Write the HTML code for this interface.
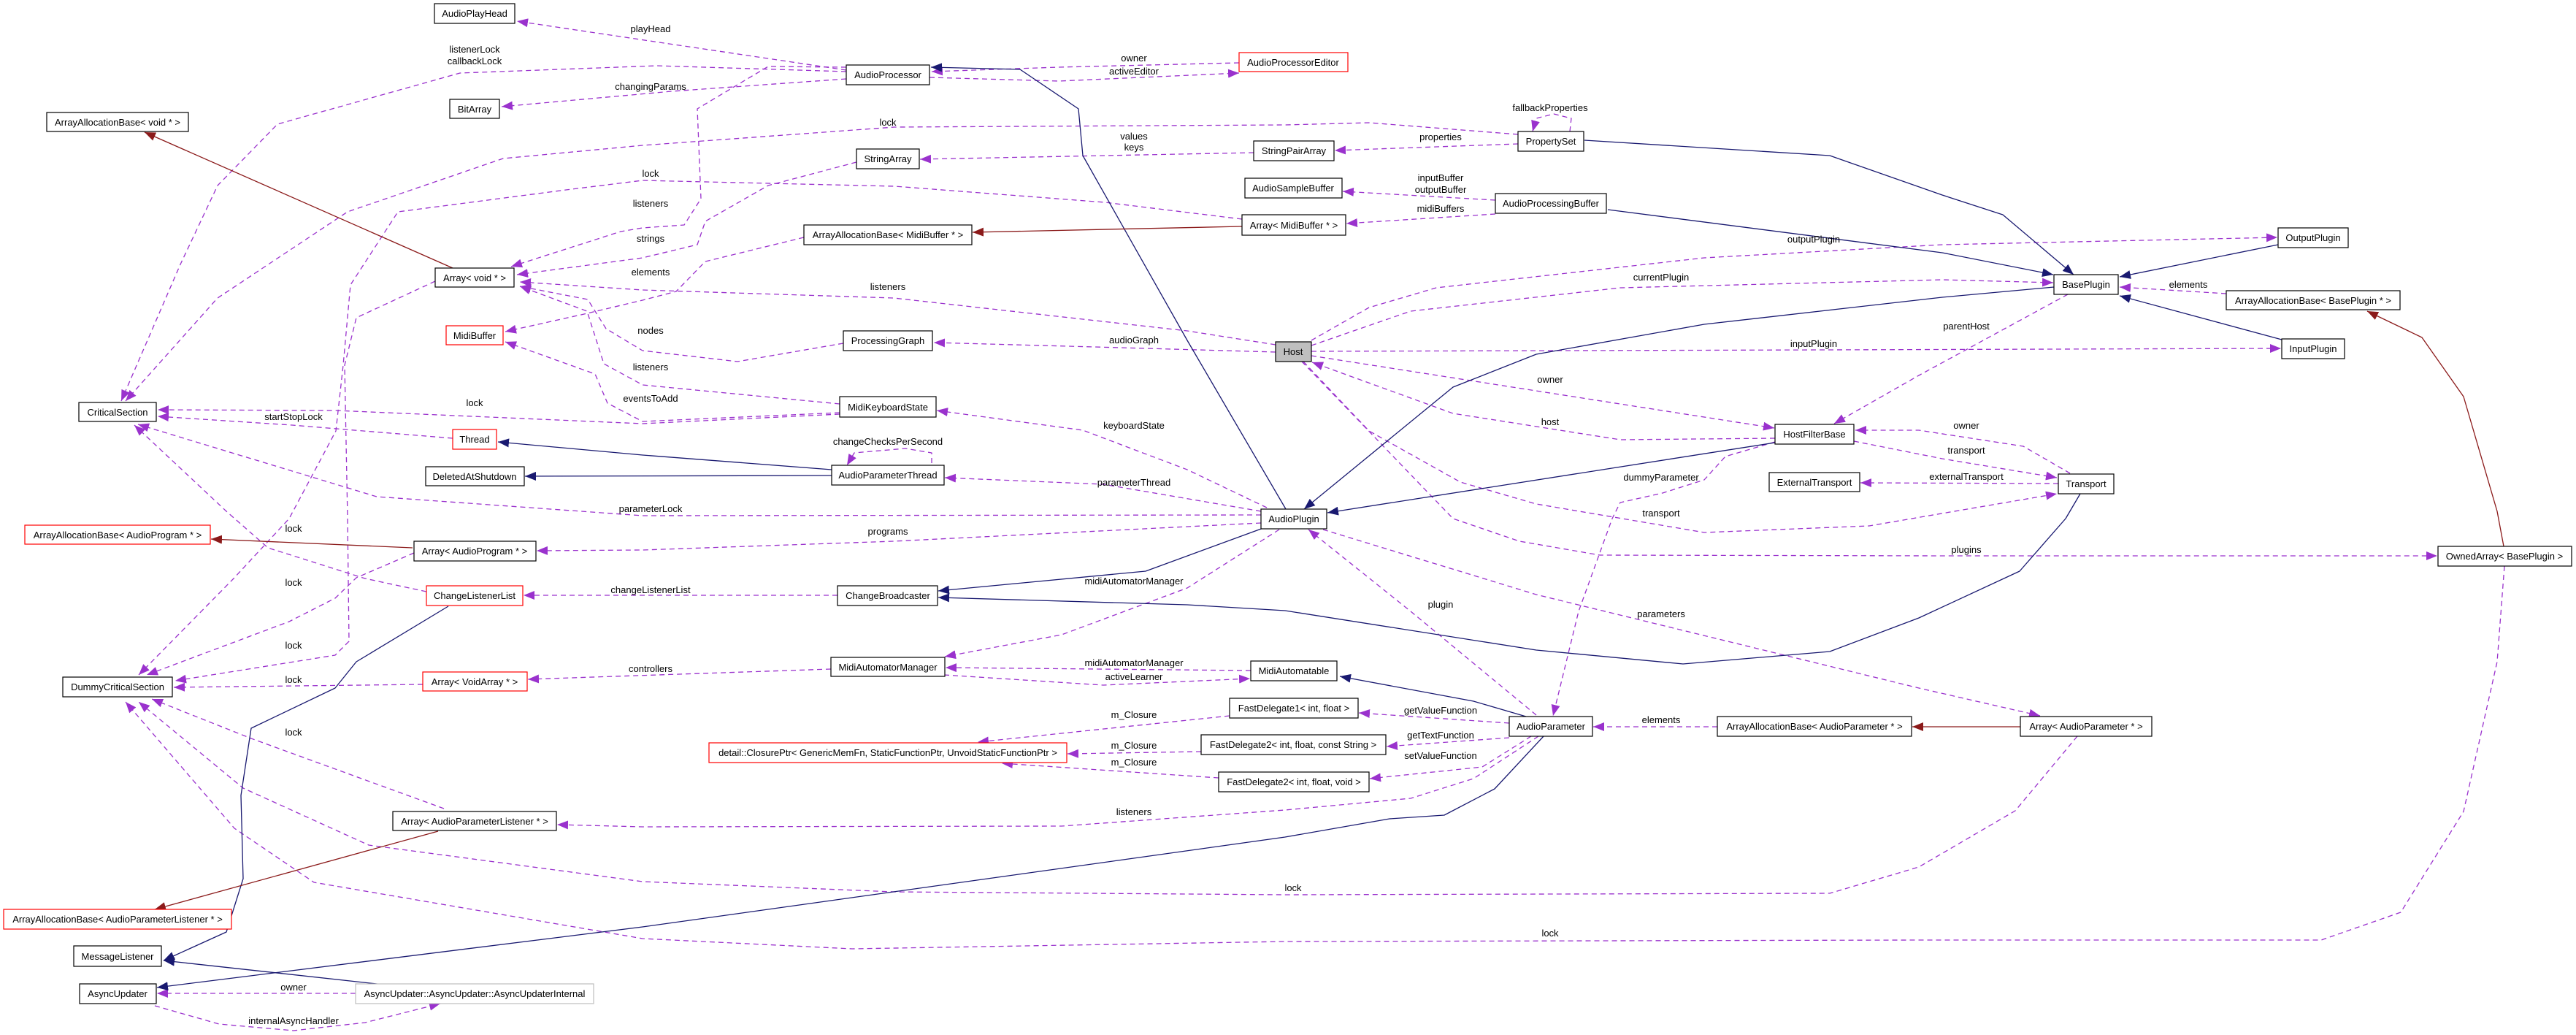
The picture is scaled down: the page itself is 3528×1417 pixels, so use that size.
<!DOCTYPE html>
<html><head><meta charset="utf-8">
<style>
html,body{margin:0;padding:0;background:#fff;}
svg{display:block;}
.n{fill:#fff;stroke:#000;stroke-width:1.2}
.r{fill:#fff;stroke:#ff0000;stroke-width:1.2}
.g{fill:#bfbfbf;stroke:#000;stroke-width:1.2}
.q{fill:#fff;stroke:#bfbfbf;stroke-width:1.2}
text{font-family:"Liberation Sans",sans-serif;font-size:13px;fill:#000}
.nt{text-anchor:middle}
.el{text-anchor:middle;font-size:13px}
.p{fill:none;stroke:#9a32cd;stroke-width:1.3;stroke-dasharray:7,5;marker-end:url(#mp);stroke-linejoin:round}
.v{fill:none;stroke:#191970;stroke-width:1.3;marker-end:url(#mv);stroke-linejoin:round}
.d{fill:none;stroke:#8b1a1a;stroke-width:1.3;marker-end:url(#md);stroke-linejoin:round}
</style></head><body>
<svg width="3528" height="1417" viewBox="0 0 3528 1417" xmlns="http://www.w3.org/2000/svg">
<defs>
<marker id="mp" markerUnits="userSpaceOnUse" markerWidth="16" markerHeight="12" refX="15" refY="6" orient="auto"><path d="M0,0 L15,6 L0,12 z" fill="#9a32cd"/></marker>
<marker id="mv" markerUnits="userSpaceOnUse" markerWidth="16" markerHeight="12" refX="15" refY="6" orient="auto"><path d="M0,0 L15,6 L0,12 z" fill="#191970"/></marker>
<marker id="md" markerUnits="userSpaceOnUse" markerWidth="16" markerHeight="12" refX="15" refY="6" orient="auto"><path d="M0,0 L15,6 L0,12 z" fill="#8b1a1a"/></marker>
</defs>

<!-- purple edges -->
<g>
<polyline class="p" points="1159,96 930,62 708,29"/>
<polyline class="p" points="1159,98 900,90 630,100 380,170 298,254 247,362 166,549"/>
<polyline class="p" points="1159,108 920,125 687,146"/>
<polyline class="p" points="1697,86 1450,92 1276,98"/>
<polyline class="p" points="1273,106 1450,111 1697,100"/>
<polyline class="p" points="1159,92 1052,91 955,149 960,272 937,308 880,312 850,317 700,365"/>
<polyline class="p" points="1173,222 1052,254 966,303 955,335 880,353 708,376"/>
<polyline class="p" points="1101,325 966,358 926,399 880,411 800,430 692,454"/>
<polyline class="p" points="1747,472 1626,453 1224,408 880,397 712,386"/>
<polyline class="p" points="1155,470 1010,495 880,480 830,450 805,410 712,392"/>
<polyline class="p" points="1150,553 880,527 827,498 804,426 712,392"/>
<polyline class="p" points="1150,565 880,577 832,552 815,512 692,468"/>
<polyline class="p" points="1150,567 880,580 460,562 216,561"/>
<polyline class="p" points="620,600 400,582 216,570"/>
<polyline class="p" points="1727,705 880,706 516,680 189,581"/>
<polyline class="p" points="596,385 488,435 472,500 476,710 478,878 459,897 240,932"/>
<polyline class="p" points="2079,184 1875,168 1760,171 1225,174 880,199 689,217 476,290 298,408 172,549"/>
<polyline class="p" points="1701,300 1513,277 1225,255 880,247 775,260 545,290 480,390 470,500 460,590 396,710 320,792 190,924"/>
<polyline class="p" points="584,810 500,792 367,750 310,700 184,582"/>
<polyline class="p" points="567,757 488,791 459,819 396,851 201,924"/>
<polyline class="p" points="579,937 238,941"/>
<polyline class="p" points="608,1107 344,1011 208,957"/>
<polyline class="p" points="2845,1008 2760,1110 2628,1187 2506,1223 1760,1225 1224,1221 880,1207 505,1157 333,1079 190,961"/>
<polyline class="p" points="3430,775 3420,906 3374,1111 3288,1249 3179,1287 2628,1287 1760,1289 1167,1299 880,1285 430,1208 321,1134 172,961"/>
<polyline class="p" points="1747,482 1500,475 1279,469"/>
<polyline class="p" points="1796,473 1932,426 2219,394 2660,383 2812,387"/>
<polyline class="p" points="1796,466 1875,421 1967,394 2334,353 2660,335 3119,325"/>
<polyline class="p" points="1796,481 2500,479 3124,477"/>
<polyline class="p" points="1796,487 2430,586"/>
<polyline class="p" points="2431,600 2219,602 1990,566 1797,496"/>
<polyline class="p" points="1785,495 1875,590 2000,660 2104,690 2334,729 2560,720 2817,676"/>
<polyline class="p" points="1783,495 1990,710 2081,741 2191,760 2660,761 3338,761"/>
<polyline class="p" points="2835,648 2771,611 2628,589 2541,589"/>
<polyline class="p" points="2539,604 2660,628 2817,654"/>
<polyline class="p" points="2819,662 2548,661"/>
<polyline class="p" points="2832,403 2628,514 2512,580"/>
<polyline class="p" points="3049,402 2903,393"/>
<polyline class="p" points="2431,605 2363,625 2334,657 2277,675 2219,688 2208,710 2162,837 2127,980"/>
<polyline class="p" points="1812,725 2104,814 2628,942 2794,980"/>
<polyline class="p" points="2104,979 1932,837 1792,725"/>
<polyline class="p" points="1727,716 1224,741 880,753 735,754"/>
<polyline class="p" points="1727,700 1511,663 1294,654"/>
<polyline class="p" points="1735,695 1626,643 1483,589 1283,562"/>
<polyline class="p" points="1147,815 717,815"/>
<polyline class="p" points="1752,725 1626,805 1454,869 1294,899"/>
<polyline class="p" points="1138,916 723,930"/>
<polyline class="p" points="1713,918 1295,914"/>
<polyline class="p" points="1293,924 1511,938 1712,929"/>
<polyline class="p" points="1684,980 1339,1016"/>
<polyline class="p" points="1645,1029 1462,1032"/>
<polyline class="p" points="1669,1065 1372,1045"/>
<polyline class="p" points="2067,990 1861,976"/>
<polyline class="p" points="2067,1010 1899,1022"/>
<polyline class="p" points="2097,1008 2030,1050 1876,1066"/>
<polyline class="p" points="2107,1008 2018,1066 1932,1093 1760,1109 1454,1131 880,1132 763,1129"/>
<polyline class="p" points="2352,995 2182,995"/>
<polyline class="p" points="1717,209 1260,218"/>
<polyline class="p" points="2079,197 1828,206"/>
<polyline class="p" points="2150,180 2152,162 2128,156 2104,162 2099,180"/>
<polyline class="p" points="1276,634 1276,620 1240,614 1170,620 1160,637"/>
<polyline class="p" points="2048,274 1839,262"/>
<polyline class="p" points="2048,293 1844,306"/>
<polyline class="p" points="487,1360 215,1360"/>
<polyline class="p" points="212,1377 300,1402 402,1411 500,1400 603,1374"/>
</g>

<!-- navy edges -->
<g>
<polyline class="v" points="1761,697 1626,466 1483,213 1477,149 1397,95 1275,92"/>
<polyline class="v" points="1139,643 880,623 682,605"/>
<polyline class="v" points="1139,651 719,652"/>
<polyline class="v" points="2813,393 2660,407 2334,444 2104,485 1990,530 1786,697"/>
<polyline class="v" points="2431,606 1818,702"/>
<polyline class="v" points="1730,723 1569,782 1285,809"/>
<polyline class="v" points="2849,676 2829,710 2766,782 2628,846 2506,892 2305,909 2104,890 1760,836 1626,828 1285,818"/>
<polyline class="v" points="2090,981 2018,960 1835,926"/>
<polyline class="v" points="2114,1008 2047,1080 1978,1116 1903,1121 1760,1146 880,1269 215,1352"/>
<polyline class="v" points="614,830 488,906 459,942 344,997 330,1089 333,1203 310,1276 224,1315"/>
<polyline class="v" points="525,1348 224,1315"/>
<polyline class="v" points="2202,287 2660,346 2812,376"/>
<polyline class="v" points="2170,192 2506,213 2660,267 2743,294 2840,376"/>
<polyline class="v" points="3120,335 2903,379"/>
<polyline class="v" points="3125,465 2903,405"/>
</g>

<!-- red edges -->
<g>
<polyline class="d" points="620,367 198,181"/>
<polyline class="d" points="1701,310 1332,318"/>
<polyline class="d" points="565,750 289,738"/>
<polyline class="d" points="600,1138 212,1245"/>
<polyline class="d" points="2767,995 2619,995"/>
<polyline class="d" points="3429,748 3420,700 3374,543 3317,462 3242,426"/>
</g>

<!-- nodes -->
<g>
<rect class="n" x="595" y="5" width="110" height="27"/><text class="nt" x="650" y="23">AudioPlayHead</text>
<rect class="n" x="616" y="136" width="68" height="26"/><text class="nt" x="650" y="154">BitArray</text>
<rect class="n" x="64" y="154" width="194" height="26"/><text class="nt" x="161" y="172">ArrayAllocationBase&lt; void * &gt;</text>
<rect class="n" x="596" y="367" width="108" height="26"/><text class="nt" x="650" y="385">Array&lt; void * &gt;</text>
<rect class="r" x="611" y="446" width="78" height="26"/><text class="nt" x="650" y="464">MidiBuffer</text>
<rect class="n" x="108" y="551" width="106" height="26"/><text class="nt" x="161" y="569">CriticalSection</text>
<rect class="r" x="620" y="588" width="60" height="27"/><text class="nt" x="650" y="606">Thread</text>
<rect class="n" x="583" y="639" width="135" height="26"/><text class="nt" x="650" y="657">DeletedAtShutdown</text>
<rect class="r" x="34" y="719" width="254" height="26"/><text class="nt" x="161" y="737">ArrayAllocationBase&lt; AudioProgram * &gt;</text>
<rect class="n" x="567" y="741" width="167" height="27"/><text class="nt" x="650" y="759">Array&lt; AudioProgram * &gt;</text>
<rect class="r" x="584" y="802" width="132" height="27"/><text class="nt" x="650" y="820">ChangeListenerList</text>
<rect class="n" x="86" y="927" width="150" height="27"/><text class="nt" x="161" y="945">DummyCriticalSection</text>
<rect class="r" x="579" y="920" width="143" height="26"/><text class="nt" x="650" y="938">Array&lt; VoidArray * &gt;</text>
<rect class="n" x="538" y="1111" width="224" height="26"/><text class="nt" x="650" y="1129">Array&lt; AudioParameterListener * &gt;</text>
<rect class="r" x="5" y="1245" width="312" height="27"/><text class="nt" x="161" y="1263">ArrayAllocationBase&lt; AudioParameterListener * &gt;</text>
<rect class="n" x="101" y="1295" width="120" height="28"/><text class="nt" x="161" y="1314">MessageListener</text>
<rect class="n" x="109" y="1347" width="105" height="27"/><text class="nt" x="161" y="1365">AsyncUpdater</text>
<rect class="q" x="487" y="1347" width="326" height="27"/><text class="nt" x="650" y="1365">AsyncUpdater::AsyncUpdater::AsyncUpdaterInternal</text>

<rect class="n" x="1159" y="89" width="114" height="27"/><text class="nt" x="1216" y="107">AudioProcessor</text>
<rect class="r" x="1697" y="72" width="149" height="26"/><text class="nt" x="1771" y="90">AudioProcessorEditor</text>
<rect class="n" x="1173" y="204" width="86" height="27"/><text class="nt" x="1216" y="222">StringArray</text>
<rect class="n" x="1717" y="193" width="110" height="27"/><text class="nt" x="1772" y="211">StringPairArray</text>
<rect class="n" x="1705" y="244" width="133" height="27"/><text class="nt" x="1771" y="262">AudioSampleBuffer</text>
<rect class="n" x="1701" y="294" width="142" height="28"/><text class="nt" x="1772" y="313">Array&lt; MidiBuffer * &gt;</text>
<rect class="n" x="1101" y="308" width="230" height="27"/><text class="nt" x="1216" y="326">ArrayAllocationBase&lt; MidiBuffer * &gt;</text>
<rect class="g" x="1747" y="468" width="49" height="27"/><text class="nt" x="1771" y="486">Host</text>
<rect class="n" x="1155" y="453" width="122" height="27"/><text class="nt" x="1216" y="471">ProcessingGraph</text>
<rect class="n" x="1150" y="543" width="132" height="28"/><text class="nt" x="1216" y="562">MidiKeyboardState</text>
<rect class="n" x="1139" y="637" width="154" height="27"/><text class="nt" x="1216" y="655">AudioParameterThread</text>
<rect class="n" x="1727" y="697" width="90" height="27"/><text class="nt" x="1772" y="715">AudioPlugin</text>
<rect class="n" x="1147" y="802" width="137" height="27"/><text class="nt" x="1216" y="820">ChangeBroadcaster</text>
<rect class="n" x="1138" y="900" width="156" height="26"/><text class="nt" x="1216" y="918">MidiAutomatorManager</text>
<rect class="n" x="1713" y="905" width="118" height="27"/><text class="nt" x="1772" y="923">MidiAutomatable</text>
<rect class="n" x="1684" y="956" width="176" height="27"/><text class="nt" x="1772" y="974">FastDelegate1&lt; int, float &gt;</text>
<rect class="r" x="971" y="1017" width="490" height="27"/><text class="nt" x="1216" y="1035">detail::ClosurePtr&lt; GenericMemFn, StaticFunctionPtr, UnvoidStaticFunctionPtr &gt;</text>
<rect class="n" x="1645" y="1006" width="253" height="27"/><text class="nt" x="1771" y="1024">FastDelegate2&lt; int, float, const String &gt;</text>
<rect class="n" x="1669" y="1057" width="206" height="27"/><text class="nt" x="1772" y="1075">FastDelegate2&lt; int, float, void &gt;</text>

<rect class="n" x="2079" y="180" width="90" height="27"/><text class="nt" x="2124" y="198">PropertySet</text>
<rect class="n" x="2048" y="265" width="152" height="27"/><text class="nt" x="2124" y="283">AudioProcessingBuffer</text>
<rect class="n" x="2431" y="581" width="108" height="27"/><text class="nt" x="2485" y="599">HostFilterBase</text>
<rect class="n" x="2423" y="647" width="124" height="26"/><text class="nt" x="2485" y="665">ExternalTransport</text>
<rect class="n" x="2067" y="981" width="114" height="27"/><text class="nt" x="2124" y="999">AudioParameter</text>
<rect class="n" x="2352" y="981" width="266" height="27"/><text class="nt" x="2485" y="999">ArrayAllocationBase&lt; AudioParameter * &gt;</text>
<rect class="n" x="3120" y="312" width="96" height="27"/><text class="nt" x="3168" y="330">OutputPlugin</text>
<rect class="n" x="2813" y="376" width="88" height="27"/><text class="nt" x="2857" y="394">BasePlugin</text>
<rect class="n" x="3049" y="398" width="238" height="26"/><text class="nt" x="3168" y="416">ArrayAllocationBase&lt; BasePlugin * &gt;</text>
<rect class="n" x="3125" y="464" width="86" height="27"/><text class="nt" x="3168" y="482">InputPlugin</text>
<rect class="n" x="2819" y="649" width="76" height="27"/><text class="nt" x="2857" y="667">Transport</text>
<rect class="n" x="3339" y="748" width="183" height="27"/><text class="nt" x="3430" y="766">OwnedArray&lt; BasePlugin &gt;</text>
<rect class="n" x="2767" y="981" width="180" height="27"/><text class="nt" x="2857" y="999">Array&lt; AudioParameter * &gt;</text>
</g>

<!-- edge labels -->
<g class="el">
<text class="el" x="891" y="44">playHead</text>
<text class="el" x="650" y="72">listenerLock</text>
<text class="el" x="650" y="88">callbackLock</text>
<text class="el" x="891" y="123">changingParams</text>
<text class="el" x="891" y="242">lock</text>
<text class="el" x="891" y="283">listeners</text>
<text class="el" x="891" y="331">strings</text>
<text class="el" x="891" y="377">elements</text>
<text class="el" x="891" y="457">nodes</text>
<text class="el" x="891" y="507">listeners</text>
<text class="el" x="891" y="550">eventsToAdd</text>
<text class="el" x="650" y="556">lock</text>
<text class="el" x="402" y="575">startStopLock</text>
<text class="el" x="891" y="701">parameterLock</text>
<text class="el" x="402" y="728">lock</text>
<text class="el" x="402" y="802">lock</text>
<text class="el" x="402" y="888">lock</text>
<text class="el" x="402" y="935">lock</text>
<text class="el" x="402" y="1007">lock</text>
<text class="el" x="402" y="1356">owner</text>
<text class="el" x="402" y="1402">internalAsyncHandler</text>
<text class="el" x="1553" y="84">owner</text>
<text class="el" x="1553" y="102">activeEditor</text>
<text class="el" x="1216" y="172">lock</text>
<text class="el" x="1553" y="191">values</text>
<text class="el" x="1553" y="206">keys</text>
<text class="el" x="1216" y="397">listeners</text>
<text class="el" x="1553" y="470">audioGraph</text>
<text class="el" x="1553" y="587">keyboardState</text>
<text class="el" x="1216" y="609">changeChecksPerSecond</text>
<text class="el" x="1553" y="665">parameterThread</text>
<text class="el" x="1216" y="732">programs</text>
<text class="el" x="891" y="812">changeListenerList</text>
<text class="el" x="1553" y="800">midiAutomatorManager</text>
<text class="el" x="891" y="920">controllers</text>
<text class="el" x="1553" y="912">midiAutomatorManager</text>
<text class="el" x="1553" y="931">activeLearner</text>
<text class="el" x="1553" y="983">m_Closure</text>
<text class="el" x="1553" y="1025">m_Closure</text>
<text class="el" x="1553" y="1048">m_Closure</text>
<text class="el" x="1553" y="1116">listeners</text>
<text class="el" x="1771" y="1220">lock</text>
<text class="el" x="2123" y="1282">lock</text>
<text class="el" x="2123" y="152">fallbackProperties</text>
<text class="el" x="1973" y="192">properties</text>
<text class="el" x="1973" y="248">inputBuffer</text>
<text class="el" x="1973" y="264">outputBuffer</text>
<text class="el" x="1973" y="290">midiBuffers</text>
<text class="el" x="2484" y="332">outputPlugin</text>
<text class="el" x="2275" y="384">currentPlugin</text>
<text class="el" x="2484" y="475">inputPlugin</text>
<text class="el" x="2123" y="524">owner</text>
<text class="el" x="2123" y="582">host</text>
<text class="el" x="2275" y="658">dummyParameter</text>
<text class="el" x="2275" y="707">transport</text>
<text class="el" x="1973" y="832">plugin</text>
<text class="el" x="2275" y="845">parameters</text>
<text class="el" x="1973" y="977">getValueFunction</text>
<text class="el" x="1973" y="1011">getTextFunction</text>
<text class="el" x="1973" y="1039">setValueFunction</text>
<text class="el" x="2275" y="990">elements</text>
<text class="el" x="2997" y="394">elements</text>
<text class="el" x="2693" y="451">parentHost</text>
<text class="el" x="2693" y="587">owner</text>
<text class="el" x="2693" y="621">transport</text>
<text class="el" x="2693" y="657">externalTransport</text>
<text class="el" x="2693" y="757">plugins</text>
</g>
</svg>
</body></html>
